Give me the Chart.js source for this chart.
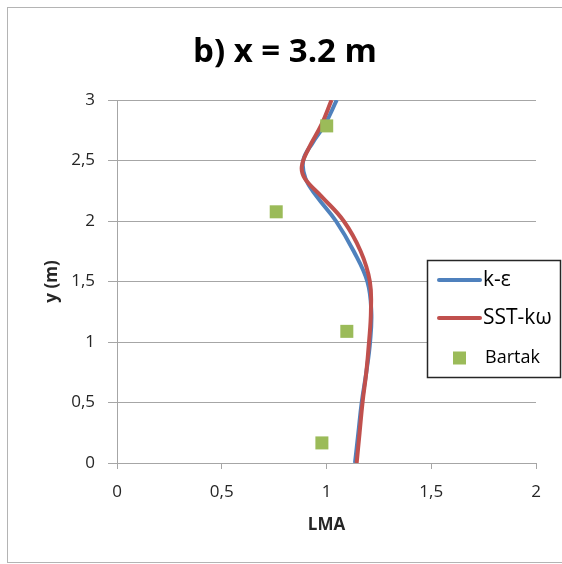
<!DOCTYPE html>
<html>
<head>
<meta charset="utf-8">
<script src="https://cdn.jsdelivr.net/npm/chart.js@4.4.1/dist/chart.umd.min.js"></script>
<style>
  html, body { margin: 0; padding: 0; background: #fff; }
  #wrap { width: 562px; height: 564px; }
</style>
</head>
<body>
<div id="wrap"><canvas id="lma-chart" width="562" height="564"></canvas></div>
<script>
// Profile at x = 3.2 m : LMA (x) against height y (m)
const heights = [0, 0.25, 0.5, 0.75, 1.0, 1.25, 1.5, 1.75, 2.0, 2.2, 2.35, 2.5, 2.65, 2.8, 3.0];
const kEpsilon = [1.136, 1.152, 1.168, 1.19, 1.208, 1.214, 1.195, 1.13, 1.045, 0.955, 0.9, 0.889, 0.935, 0.993, 1.049];

const sstHeights = [0, 0.25, 0.5, 0.75, 1.0, 1.25, 1.5, 1.75, 2.0, 2.2, 2.35, 2.45, 2.6, 2.8, 3.0];
const sstKOmega = [1.144, 1.158, 1.172, 1.19, 1.203, 1.212, 1.207, 1.163, 1.082, 0.978, 0.897, 0.882, 0.915, 0.977, 1.024];

// measured points
const bartakY = [2.786, 2.076, 1.088, 0.166];
const bartakX = [1.001, 0.76, 1.097, 0.978];

const seriesLabels = ["k-ε", "SST-kω", "Bartak"];
const seriesColors = ["#4F81BD", "#C0504D", "#9BBB59"];

const FONT = "'Open Sans', 'DejaVu Sans', sans-serif";
const GRID = "#a6a6a6";

const toPoints = (xs, ys) => xs.map((x, i) => ({ x: x, y: ys[i] }));
const comma = (v) => String(v).replace(".", ",");

// title, outer frame and the boxed legend
const decorations = {
  id: "decorations",
  beforeDraw(chart) {
    const ctx = chart.ctx;
    ctx.save();
    ctx.fillStyle = "#fff";
    ctx.fillRect(0, 0, chart.width, chart.height);
    ctx.restore();
  },
  afterDraw(chart) {
    const ctx = chart.ctx;
    ctx.save();

    ctx.strokeStyle = "#b4b4b4";
    ctx.lineWidth = 1;
    ctx.strokeRect(7.5, 7.5, 556, 555);

    ctx.fillStyle = "#000";
    ctx.font = "bold 33px " + FONT;
    ctx.textAlign = "center";
    ctx.textBaseline = "alphabetic";
    ctx.fillText("b) x = 3.2 m", 285, 62);

    // legend
    ctx.fillStyle = "#fff";
    ctx.fillRect(427.5, 260.5, 133, 117);
    ctx.strokeStyle = "#262626";
    ctx.lineWidth = 1.5;
    ctx.strokeRect(427.5, 260.5, 133, 117);

    ctx.font = "21px " + FONT;
    ctx.textAlign = "left";
    ctx.textBaseline = "middle";
    const rows = [280, 318, 358];
    ctx.lineCap = "round";
    for (let i = 0; i < 2; i++) {
      ctx.strokeStyle = seriesColors[i];
      ctx.lineWidth = 4;
      ctx.beginPath();
      ctx.moveTo(439, rows[i]);
      ctx.lineTo(480, rows[i]);
      ctx.stroke();
      ctx.fillStyle = "#000";
      ctx.fillText(seriesLabels[i], 483, rows[i]);
    }
    ctx.fillStyle = seriesColors[2];
    ctx.fillRect(453, rows[2] - 6.5, 13, 13);
    ctx.fillStyle = "#000";
    ctx.font = "18px " + FONT;
    ctx.fillText(seriesLabels[2], 485, rows[2]);

    ctx.restore();
  },
};

const ctx = document.getElementById("lma-chart").getContext("2d");
new Chart(ctx, {
  type: "scatter",
  data: {
    datasets: [
      {
        label: seriesLabels[0],
        data: toPoints(kEpsilon, heights),
        showLine: true,
        borderColor: seriesColors[0],
        borderWidth: 4,
        pointRadius: 0,
        tension: 0.4,
        order: 2,
      },
      {
        label: seriesLabels[1],
        data: toPoints(sstKOmega, sstHeights),
        showLine: true,
        borderColor: seriesColors[1],
        borderWidth: 4,
        pointRadius: 0,
        tension: 0.4,
        order: 1,
      },
      {
        label: seriesLabels[2],
        data: toPoints(bartakX, bartakY),
        showLine: false,
        pointStyle: "rect",
        pointRadius: 9.2,
        backgroundColor: seriesColors[2],
        borderWidth: 0,
        order: 0,
      },
    ],
  },
  options: {
    responsive: false,
    animation: false,
    layout: { padding: { top: 100, right: 26, left: 0, bottom: 0 } },
    plugins: {
      legend: { display: false },
      title: { display: false },
      tooltip: { enabled: false },
    },
    scales: {
      x: {
        type: "linear",
        min: 0,
        max: 2,
        ticks: {
          stepSize: 0.5,
          padding: 13,
          color: "#262626",
          font: { family: FONT, size: 17 },
          callback: comma,
        },
        grid: { drawOnChartArea: false, color: GRID, tickLength: 6 },
        border: { color: GRID },
        title: {
          display: true,
          text: "LMA",
          color: "#262626",
          font: { family: FONT, size: 17, weight: "bold" },
          padding: { top: 0, bottom: 29 },
        },
        afterFit(scale) {
          scale.height = 101;
        },
      },
      y: {
        type: "linear",
        min: 0,
        max: 3,
        ticks: {
          stepSize: 0.5,
          padding: 13,
          color: "#262626",
          font: { family: FONT, size: 17 },
          callback: comma,
        },
        grid: { color: GRID, tickLength: 9 },
        border: { color: GRID },
        title: {
          display: true,
          text: "y (m)",
          color: "#262626",
          font: { family: FONT, size: 17, weight: "bold" },
          padding: { top: 42, bottom: 0 },
        },
        afterFit(scale) {
          scale.width = 117;
        },
      },
    },
  },
  plugins: [decorations],
});
</script>
</body>
</html>
